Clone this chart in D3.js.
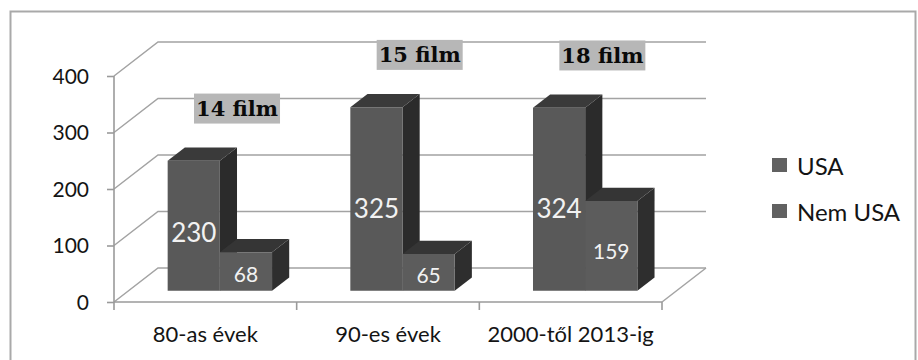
<!DOCTYPE html>
<html>
<head>
<meta charset="utf-8">
<script src="https://cdn.jsdelivr.net/npm/d3@7"></script>
<style>
  html, body { margin: 0; padding: 0; background: #ffffff; }
  svg { display: block; }
</style>
</head>
<body>
<svg id="chart" width="918" height="360"></svg>
<script>
// Film counts by decade, split into US and non-US productions
const categories = ["80-as évek", "90-es évek", "2000-től 2013-ig"];
const seriesNames = ["USA", "Nem USA"];
const usaValues = [230, 325, 324];
const nonUsaValues = [68, 65, 159];
const filmCounts = [14, 15, 18];
const yTicks = [0, 100, 200, 300, 400];

const seriesValues = [usaValues, nonUsaValues];
const frontColor = ["#595959", "#5c5c5c"];
const topColor = ["#3a3a3a", "#353535"];
const sideColor = ["#2b2b2b", "#2e2e2e"];

const svg = d3.select("#chart");

// Outer frame
svg.append("rect")
  .attr("x", 10.5).attr("y", 11.5)
  .attr("width", 905).attr("height", 360)
  .attr("fill", "#ffffff")
  .attr("stroke", "#a9a9a9").attr("stroke-width", 2);

// Scales: front plane of the 3D box
const x0 = d3.scaleBand().domain(categories).range([114, 662]);
const x1 = d3.scaleBand().domain(seriesNames).range([0, x0.bandwidth()]).paddingOuter(0.75);
const y = d3.scaleLinear().domain([0, 400]).range([302, 76]);

// Depth offset of the back wall
const DX = 44, DY = -34;
const z0 = 0.33, z1 = 0.72;
const P = (x, v, z) => [x + DX * z, y(v) + DY * z];
const poly = pts => pts.map(p => p.join(",")).join(" ");

const xLeft = x0.range()[0], xRight = x0.range()[1];

// Back wall gridlines and their diagonals to the axis
const grid = svg.append("g").attr("stroke", "#a3a3a3").attr("stroke-width", 1.5).attr("fill", "none");
yTicks.forEach(t => {
  const a = P(xLeft, t, 0), b = P(xLeft, t, 1), c = P(xRight, t, 1);
  grid.append("polyline").attr("points", poly([a, b, c]));
});
// Right edge of floor
grid.append("line")
  .attr("x1", P(xRight, 0, 0)[0]).attr("y1", P(xRight, 0, 0)[1])
  .attr("x2", P(xRight, 0, 1)[0]).attr("y2", P(xRight, 0, 1)[1]);

// Bars
const bars = svg.append("g");
categories.forEach((cat, i) => {
  seriesNames.forEach((s, j) => {
    const v = seriesValues[j][i];
    const xl = x0(cat) + x1(s);
    const xr = xl + x1.bandwidth();
    bars.append("polygon").attr("fill", sideColor[j])
      .attr("points", poly([P(xr, 0, z0), P(xr, 0, z1), P(xr, v, z1), P(xr, v, z0)]));
    bars.append("polygon").attr("fill", topColor[j])
      .attr("points", poly([P(xl, v, z0), P(xr, v, z0), P(xr, v, z1), P(xl, v, z1)]));
    bars.append("polygon").attr("fill", frontColor[j])
      .attr("points", poly([P(xl, 0, z0), P(xr, 0, z0), P(xr, v, z0), P(xl, v, z0)]));
  });
});

// Value labels on bars
categories.forEach((cat, i) => {
  seriesNames.forEach((s, j) => {
    const v = seriesValues[j][i];
    const xc = x0(cat) + x1(s) + x1.bandwidth() / 2;
    const p = P(xc, v * 0.45, z0);
    svg.append("text")
      .attr("x", p[0]).attr("y", p[1])
      .attr("text-anchor", "middle")
      .attr("dominant-baseline", "central")
      .attr("font-family", "Lato, 'Open Sans', sans-serif")
      .attr("font-size", j === 0 ? 26 : 21)
      .attr("fill", "#f2f2f2")
      .text(v);
  });
});

// Y axis
const yAxis = svg.append("g").attr("transform", `translate(${xLeft},0)`)
  .call(d3.axisLeft(y).tickValues(yTicks).tickSize(7).tickPadding(18));
yAxis.select(".domain").attr("stroke", "#9a9a9a").attr("stroke-width", 1.6)
  .attr("d", `M0,${y(0)}V${y(400)}`);
yAxis.selectAll(".tick line").attr("stroke", "#9a9a9a").attr("stroke-width", 1.6);
yAxis.selectAll(".tick text")
  .attr("font-family", "Lato, 'Open Sans', sans-serif")
  .attr("font-size", 21).attr("fill", "#141414").attr("dy", "0.35em");

// Category axis: floor front edge with ticks between categories
const xg = svg.append("g").attr("stroke", "#9a9a9a").attr("stroke-width", 1.6);
xg.append("line").attr("x1", xLeft).attr("x2", xRight).attr("y1", y(0)).attr("y2", y(0));
const bounds = categories.map(c => x0(c)).concat([xRight]);
bounds.forEach(b => {
  xg.append("line").attr("x1", b).attr("x2", b).attr("y1", y(0)).attr("y2", y(0) + 8);
});
categories.forEach(cat => {
  svg.append("text")
    .attr("x", x0(cat) + x0.bandwidth() / 2)
    .attr("y", y(0) + 40)
    .attr("text-anchor", "middle")
    .attr("font-family", "Lato, 'Open Sans', sans-serif")
    .attr("font-size", 22).attr("fill", "#141414")
    .text(cat);
});

// "n film" call-outs above each decade
categories.forEach((cat, i) => {
  const top = Math.max(usaValues[i], nonUsaValues[i]);
  const p = P(x0(cat) + x0.bandwidth() / 2, top, z1);
  const g = svg.append("g").attr("transform", `translate(${p[0]},${p[1] - 39})`);
  const t = g.append("text")
    .attr("text-anchor", "middle")
    .attr("dominant-baseline", "central")
    .attr("font-family", "'DejaVu Serif', serif")
    .attr("font-weight", "bold")
    .attr("font-size", 21).attr("fill", "#0a0a0a")
    .text(`${filmCounts[i]} film`);
  const bb = t.node().getBBox();
  g.insert("rect", "text")
    .attr("x", bb.x - 2).attr("y", -15)
    .attr("width", bb.width + 4).attr("height", 30)
    .attr("fill", "#b7b7b7");
});

// Legend
const legend = svg.append("g");
seriesNames.forEach((s, j) => {
  const yy = 165 + j * 46;
  legend.append("rect").attr("x", 772).attr("y", yy - 7)
    .attr("width", 15).attr("height", 14).attr("fill", "#616161");
  legend.append("text").attr("x", 797).attr("y", yy)
    .attr("dominant-baseline", "central")
    .attr("font-family", "Lato, 'Open Sans', sans-serif")
    .attr("font-size", 24).attr("fill", "#141414")
    .text(s);
});
</script>
</body>
</html>
